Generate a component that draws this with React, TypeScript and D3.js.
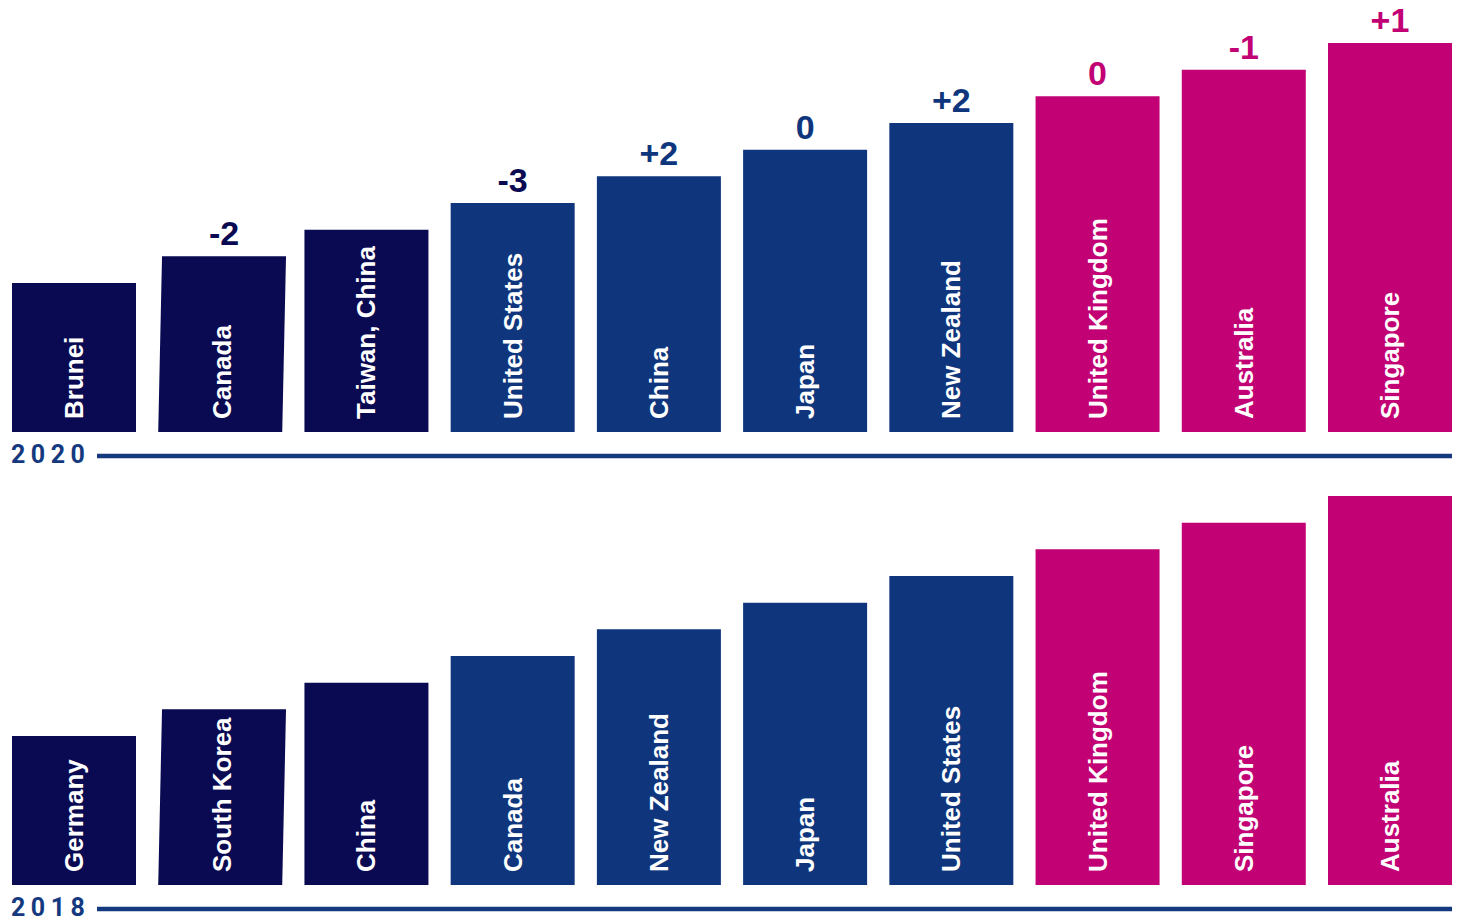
import React from "react";
import * as d3 from "d3";

const countries2020 = ["Brunei", "Canada", "Taiwan, China", "United States", "China", "Japan", "New Zealand", "United Kingdom", "Australia", "Singapore"];
const ranks2020 = [10, 9, 8, 7, 6, 5, 4, 3, 2, 1];
const changes2020 = ["", "-2", "", "-3", "+2", "0", "+2", "0", "-1", "+1"];
const changeGroups2020 = [0, 0, 0, 0, 1, 1, 1, 2, 2, 2];

const countries2018 = ["Germany", "South Korea", "China", "Canada", "New Zealand", "Japan", "United States", "United Kingdom", "Singapore", "Australia"];
const ranks2018 = [10, 9, 8, 7, 6, 5, 4, 3, 2, 1];

const groups = [0, 0, 0, 1, 1, 1, 1, 2, 2, 2];
const COLORS = ["#0a0a52", "#0f367d", "#c20274"];
const LINE_COLOR = "#14397f";
const FONT = "Roboto, 'Noto Sans', Arial, sans-serif";
const LABEL_FONT = "'Liberation Sans', Arial, Helvetica, sans-serif";

const W = 1458;
const H = 919;

function Panel({ names, ranks, changes, changeGroups, baseline, year }: { names: string[]; ranks: number[]; changes: string[] | null; changeGroups: number[] | null; baseline: number; year: string }) {
  const x = d3.scaleBand<number>().domain(d3.range(names.length)).range([12, 1452]).paddingInner(0.152).paddingOuter(0);
  const y = d3.scaleLinear().domain([10, 1]).range([baseline - 149, baseline - 389]);
  const bw = x.bandwidth();
  return (
    <g>
      {names.map((n, i) => {
        const x0 = x(i)!;
        const top = y(ranks[i]);
        const skew = i === 1 ? 3.8 : 0;
        const d = `M${x0 + skew},${top}L${x0 + bw + skew},${top}L${x0 + bw},${baseline}L${x0},${baseline}Z`;
        const cx = x0 + bw / 2 + skew / 2;
        return (
          <g key={n}>
            <path d={d} fill={COLORS[groups[i]]} />
            <text
              transform={`translate(${cx},${baseline - 13}) rotate(-90)`}
              textAnchor="start"
              dominantBaseline="central"
              fill="#ffffff"
              fontFamily={LABEL_FONT}
              fontWeight={700}
              fontSize={26}
            >
              {n}
            </text>
            {changes && changes[i] ? (
              <text x={x0 + bw / 2 + skew} y={top - 11} textAnchor="middle" fill={COLORS[changeGroups ? changeGroups[i] : groups[i]]} fontFamily={LABEL_FONT} fontWeight={700} fontSize={34}>
                {changes[i]}
              </text>
            ) : null}
          </g>
        );
      })}
      <line x1={97} x2={1452} y1={baseline + 24} y2={baseline + 24} stroke={LINE_COLOR} strokeWidth={4.5} />
      <text x={11} y={baseline + 31} fill={LINE_COLOR} fontFamily={FONT} fontWeight={700} fontSize={25} letterSpacing={5.5}>
        {year}
      </text>
    </g>
  );
}

export default function App() {
  return (
    <svg width={W} height={H} style={{ position: "absolute", left: 0, top: 0, background: "#ffffff" }}>
      <rect width={W} height={H} fill="#ffffff" />
      <Panel names={countries2020} ranks={ranks2020} changes={changes2020} changeGroups={changeGroups2020} baseline={432} year="2020" />
      <Panel names={countries2018} ranks={ranks2018} changes={null} changeGroups={null} baseline={885} year="2018" />
    </svg>
  );
}
